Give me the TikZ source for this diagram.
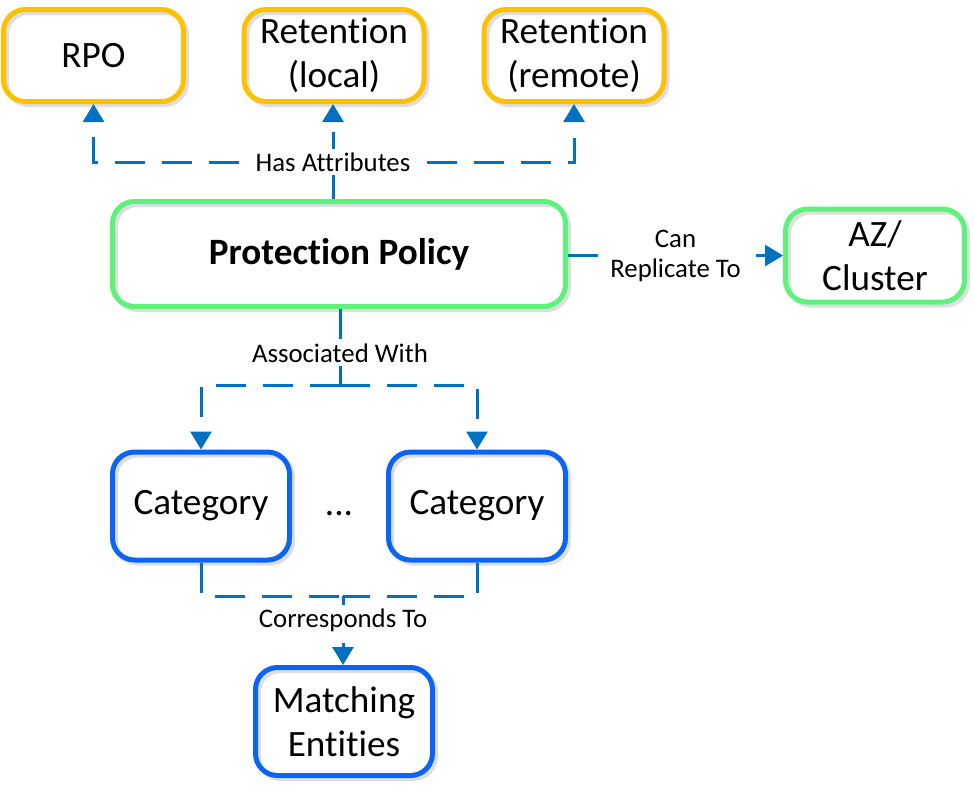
\documentclass[tikz,border=0pt]{standalone}
\usepackage{fontspec}
\setmainfont{Carlito}[Ligatures=NoCommon]
\usetikzlibrary{arrows.meta,shadows}
\definecolor{attrgold}{RGB}{255,192,0}
\definecolor{policygreen}{RGB}{94,241,124}
\definecolor{entityblue}{RGB}{10,100,245}
\definecolor{linkblue}{RGB}{0,112,192}
\newcommand{\boxfont}{\fontsize{18.6}{22}\selectfont}
\newcommand{\lblfont}{\fontsize{13.4}{15}\selectfont}

\begin{document}
\begin{tikzpicture}[
        x=0.5pt, y=-0.5pt,
        box/.style={rectangle, rounded corners=11pt, line width=2.5pt, align=center, font=\boxfont,
            general shadow={draw=black!13, shadow xshift=1.5pt, shadow yshift=-1.5pt}},
        attrbox/.style={box, draw=attrgold, minimum width=90pt, minimum height=46pt},
        policybox/.style={box, draw=policygreen, minimum width=226.5pt, minimum height=52.5pt},
        targetbox/.style={box, draw=policygreen, minimum width=89.5pt, minimum height=46.5pt},
        entitybox/.style={box, draw=entityblue, minimum width=88.5pt, minimum height=54pt},
        link/.style={draw=linkblue, line width=1.5pt, dash pattern=on 15pt off 8.5pt},
        arrow/.style={link, -{Triangle[length=9pt,width=10.5pt]}},
        lbl/.style={fill=white, font=\lblfont, align=center, inner sep=2pt}
    ]
        \useasboundingbox (0,0) rectangle (974,789);

        % attributes
        \node[attrbox] (rpo) at (93.5,55.5) {RPO};
        \node[attrbox] (local) at (334,55.5) {Retention\\(local)};
        \node[attrbox] (remote) at (574,55.5) {Retention\\(remote)};

        % policy and replication target
        \node[policybox] (policy) at (339,254) {\textbf{Protection Policy}};
        \node[targetbox] (az) at (875,255.5) {AZ/\\Cluster};

        % categories and entities
        \node[entitybox] (cat1) at (201,506) {Category};
        \node[entitybox] (cat2) at (477,506) {Category};
        \node (dots) at (339,514) {\boxfont ...};
        \node[entitybox] (match) at (344,721.5) {Matching\\Entities};

        % Has Attributes
        \coordinate (attr) at (333,162);
        \draw[link] (policy.north -| attr) -- (attr);
        \draw[arrow] (attr) -| (rpo.south);
        \draw[arrow] (attr) -- (local.south -| attr);
        \draw[arrow] (attr) -| (remote.south);
        \node[lbl] (attrlbl) at (attr) {Has Attributes};

        % Can Replicate To
        \draw[arrow] (policy.east |- az.west) -- node[lbl] (repllbl) {Can\\Replicate To} (az.west);

        % Associated With
        \coordinate (assoc) at (340,385);
        \draw[link] (policy.south -| assoc) -- (assoc);
        \draw[arrow] (assoc) -| (cat1.north);
        \draw[arrow] (assoc) -| (cat2.north);
        \node[lbl] (assoclbl) at (340,353) {Associated With};

        % Corresponds To
        \coordinate (corr) at (343,596);
        \draw[link] (cat1.south) |- (corr);
        \draw[link] (cat2.south) |- (corr);
        \draw[arrow] (corr) -- (match.north -| corr);
        \node[lbl] (corrlbl) at (343,620) {Corresponds To};

    \end{tikzpicture}
\end{document}
